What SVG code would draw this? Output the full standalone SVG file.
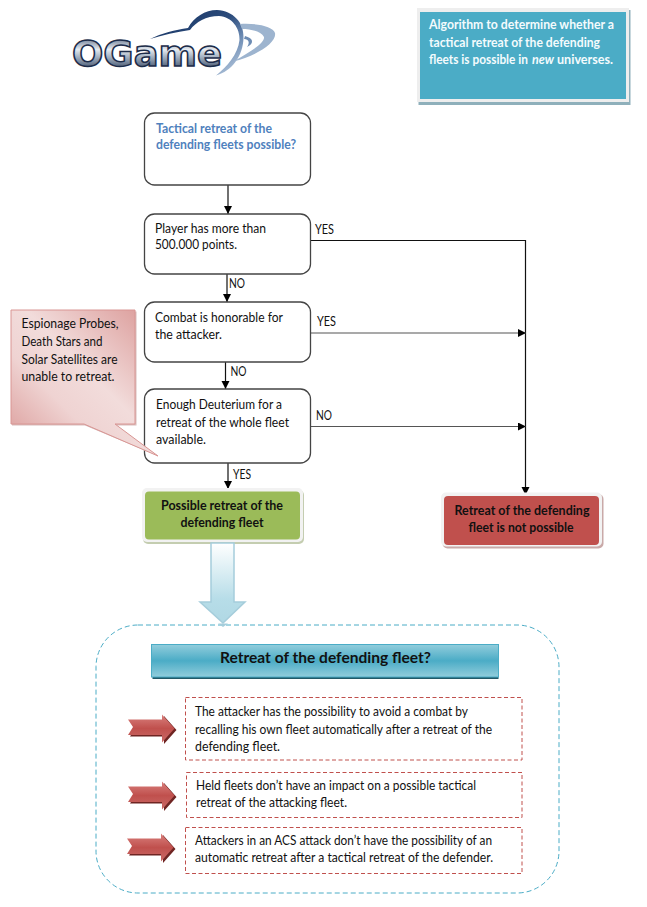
<svg xmlns="http://www.w3.org/2000/svg" width="647" height="907" viewBox="0 0 647 907">
<style>
text{font-family:"Lato","Carlito","Open Sans",sans-serif;font-size:13.4px;fill:#111}
.b{font-weight:700}
.w{fill:#f4fbfd}
.blue{fill:#4f81bd}
.node{fill:#fff;stroke:#444;stroke-width:1.3}
.conn{fill:none;stroke:#111;stroke-width:1.2}
.grey{stroke:#555}
.dash{fill:#fff;stroke:#c0504d;stroke-width:1;stroke-dasharray:4 2.5}
.rarrow{fill:url(#redA)}
.rside{fill:#6f2523}
.white{fill:#f2f2f2}
</style>
<defs>
<marker id="ah" markerUnits="userSpaceOnUse" markerWidth="9" markerHeight="9" refX="8" refY="4" orient="auto"><path d="M0 0L8 4L0 8Z" fill="#000"/></marker>
<linearGradient id="call" x1="1" y1="0" x2="0" y2="1"><stop offset="0" stop-color="#d99694"/><stop offset=".45" stop-color="#f2dcdb"/><stop offset=".65" stop-color="#efd3d2"/><stop offset="1" stop-color="#d99694"/></linearGradient>
<linearGradient id="down" x1="0" y1="0" x2="0" y2="1"><stop offset="0" stop-color="#fff"/><stop offset=".7" stop-color="#b7dde8"/><stop offset="1" stop-color="#b0d8e4"/></linearGradient>
<linearGradient id="bar" x1="0" y1="0" x2="0" y2="1"><stop offset="0" stop-color="#92cddc"/><stop offset=".5" stop-color="#4bacc6"/><stop offset="1" stop-color="#92cddc"/></linearGradient>
<linearGradient id="redA" x1="0" y1="0" x2="0" y2="1"><stop offset="0" stop-color="#d9807d"/><stop offset=".5" stop-color="#c0504d"/><stop offset="1" stop-color="#c96a67"/></linearGradient>
<linearGradient id="logoT" x1="0" y1="0" x2="0" y2="1"><stop offset="0" stop-color="#3a4d6b"/><stop offset=".4" stop-color="#e6ebf1"/><stop offset=".6" stop-color="#9fadbe"/><stop offset="1" stop-color="#1c2c4a"/></linearGradient>
<linearGradient id="logoA" gradientUnits="userSpaceOnUse" x1="190" y1="12" x2="235" y2="75"><stop offset="0" stop-color="#1f3d6c"/><stop offset=".35" stop-color="#2c4c7c"/><stop offset=".65" stop-color="#6d8cb4"/><stop offset="1" stop-color="#b9cbdf"/></linearGradient>
<path id="ra" d="M0 5H34V0L46.500 14L34 28V20.500H0L5 12.500Z"/>
</defs>

<g id="logo">
<path d="M150 39C162 33 175 30 188 28C194 17 205 10 217 10C233 11 244 22 243.500 38C243 56 232 71 216 75.500C227 67 238 54 239.500 40C240 28 232 17 219 16C206 16 196 22 190 30C176 32 163 35 150 39Z" fill="url(#logoA)"/>
<path d="M240 24C256 23 273 26 275 33C277 43 256 56 233 61.500C250 52 265 43 264 37C261 31 250 29 242 29Z" fill="#9db4cf"/>
<path d="M245 36C253 38 255 43 247 47C250 43 249 39 244 39Z" fill="#6d8cb4"/>
<text x="72" y="65.500" textLength="150" lengthAdjust="spacingAndGlyphs" style="font-family:'DejaVu Sans',sans-serif;font-size:35px;font-weight:700;fill:url(#logoT);stroke:#1c2c4a;stroke-width:1.500">OGame</text>
</g>

<g id="note-top">
<rect x="418.500" y="10" width="212" height="95" fill="#8fb0bb"/>
<rect x="417" y="8" width="212" height="94" fill="#eee"/>
<rect x="420" y="12" width="206" height="87" fill="#4bacc6"/>
<text class="b w" x="429" y="29" textLength="185" lengthAdjust="spacingAndGlyphs">Algorithm to determine whether a</text>
<text class="b w" x="429" y="47" textLength="171" lengthAdjust="spacingAndGlyphs">tactical retreat of the defending</text>
<text class="b w" transform="translate(429 64) scale(.8 1)" textLength="123.700" lengthAdjust="spacingAndGlyphs">fleets is possible in</text>
<text class="b w" transform="translate(532 64) scale(.8 1)" textLength="27.500" lengthAdjust="spacingAndGlyphs" font-style="italic">new</text>
<text class="b w" transform="translate(557 64) scale(.8 1)" textLength="70" lengthAdjust="spacingAndGlyphs">universes.</text>
</g>

<g id="connectors">
<path class="conn" d="M228 185V214" marker-end="url(#ah)"/>
<path class="conn" d="M227 274V302" marker-end="url(#ah)"/>
<path class="conn" d="M225.500 362V389" marker-end="url(#ah)"/>
<path class="conn" d="M228 463V489" marker-end="url(#ah)"/>
<path class="conn" d="M310 240.500H525.500V495" marker-end="url(#ah)"/>
<path class="conn grey" d="M310 333H526" marker-end="url(#ah)"/>
<path class="conn grey" d="M310 426.500H526" marker-end="url(#ah)"/>
<text x="315" y="234" textLength="19" lengthAdjust="spacingAndGlyphs">YES</text>
<text x="229" y="288" textLength="16" lengthAdjust="spacingAndGlyphs">NO</text>
<text x="317" y="326" textLength="19" lengthAdjust="spacingAndGlyphs">YES</text>
<text x="230.500" y="376" textLength="16" lengthAdjust="spacingAndGlyphs">NO</text>
<text x="316" y="420" textLength="16" lengthAdjust="spacingAndGlyphs">NO</text>
<text x="233" y="479" textLength="18" lengthAdjust="spacingAndGlyphs">YES</text>
</g>

<g id="start">
<rect class="node" x="144.500" y="113" width="166" height="72" rx="10"/>
<text class="b blue" x="156" y="133" textLength="116" lengthAdjust="spacingAndGlyphs">Tactical retreat of the</text>
<text class="b blue" x="156" y="149" textLength="140" lengthAdjust="spacingAndGlyphs">defending fleets possible?</text>
</g>
<g id="points">
<rect class="node" x="144.500" y="214" width="166" height="60" rx="10"/>
<text x="155" y="233" textLength="111" lengthAdjust="spacingAndGlyphs">Player has more than</text>
<text x="155" y="249" textLength="82" lengthAdjust="spacingAndGlyphs">500.000 points.</text>
</g>
<g id="honorable">
<rect class="node" x="144.500" y="302" width="166" height="60" rx="10"/>
<text x="155" y="322" textLength="128" lengthAdjust="spacingAndGlyphs">Combat is honorable for</text>
<text x="155" y="339" textLength="67" lengthAdjust="spacingAndGlyphs">the attacker.</text>
</g>
<g id="deuterium">
<rect class="node" x="144.500" y="389" width="166" height="74" rx="10"/>
<text x="156" y="409" textLength="126" lengthAdjust="spacingAndGlyphs">Enough Deuterium for a</text>
<text x="156" y="427" textLength="133" lengthAdjust="spacingAndGlyphs">retreat of the whole fleet</text>
<text x="156" y="444" textLength="50" lengthAdjust="spacingAndGlyphs">available.</text>
</g>

<g id="callout">
<path d="M12 311.500H136.500V425.500H116L158 456L85 425.500H12Z" fill="#d8bcbb"/>
<path d="M11 310H135V424H115L158 456L84 424H11Z" fill="url(#call)" stroke="#d99694" stroke-width="1"/>
<text x="21.500" y="328" textLength="97" lengthAdjust="spacingAndGlyphs">Espionage Probes,</text>
<text x="21.500" y="346" textLength="81" lengthAdjust="spacingAndGlyphs">Death Stars and</text>
<text x="21.500" y="364" textLength="96" lengthAdjust="spacingAndGlyphs">Solar Satellites are</text>
<text x="21.500" y="381" textLength="93" lengthAdjust="spacingAndGlyphs">unable to retreat.</text>
</g>

<g id="possible">
<rect x="143" y="490" width="161" height="54" rx="5" fill="#c4cdb0"/>
<rect x="142" y="488" width="161" height="54" rx="5" class="white"/>
<rect x="145" y="491.500" width="155" height="48" rx="4" fill="#9bbb59"/>
<text class="b" x="222" y="510" text-anchor="middle" textLength="122" lengthAdjust="spacingAndGlyphs">Possible retreat of the</text>
<text class="b" x="222" y="527" text-anchor="middle" textLength="83" lengthAdjust="spacingAndGlyphs">defending fleet</text>
</g>
<g id="not-possible">
<rect x="442.500" y="494" width="161" height="54.500" rx="5" fill="#c9a9a8"/>
<rect x="441" y="492.500" width="161" height="54" rx="5" class="white"/>
<rect x="444" y="496" width="155" height="49" rx="4" fill="#c0504d"/>
<text class="b" x="522" y="515" text-anchor="middle" textLength="135" lengthAdjust="spacingAndGlyphs">Retreat of the defending</text>
<text class="b" x="521" y="532" text-anchor="middle" textLength="105" lengthAdjust="spacingAndGlyphs">fleet is not possible</text>
</g>

<g id="big-arrow">
<path d="M211 543H234V602H245L223 623L200 602H211Z" fill="url(#down)" stroke="#a5cddb" stroke-width="1.500"/>
</g>

<g id="panel">
<rect x="96" y="625" width="463" height="268" rx="42" fill="#fff" stroke="#4bacc6" stroke-width="1" stroke-dasharray="5 3"/>
<path d="M218 623.500H228L223 627Z" fill="#a5cddb"/>
</g>

<g id="panel-title">
<rect x="152.500" y="646" width="346" height="33" fill="#215968"/>
<rect x="151.500" y="644.500" width="347" height="32.500" fill="url(#bar)" stroke="#4bacc6"/>
<text class="b" x="325.500" y="663" text-anchor="middle" textLength="211" lengthAdjust="spacingAndGlyphs" style="font-size:15px">Retreat of the defending fleet?</text>
</g>

<g id="item-1">
<use href="#ra" x="130" y="716" class="rside"/>
<use href="#ra" x="128" y="714.500" class="rarrow"/>
<rect class="dash" x="185.500" y="697.500" width="336.500" height="62.500"/>
<text x="195" y="716" textLength="273" lengthAdjust="spacingAndGlyphs">The attacker has the possibility to avoid a combat by</text>
<text x="195" y="734" textLength="297" lengthAdjust="spacingAndGlyphs">recalling his own fleet automatically after a retreat of the</text>
<text x="195" y="751" textLength="85" lengthAdjust="spacingAndGlyphs">defending fleet.</text>
</g>
<g id="item-2">
<use href="#ra" x="130" y="783" class="rside"/>
<use href="#ra" x="128" y="781.500" class="rarrow"/>
<rect class="dash" x="186.500" y="772.500" width="335.500" height="45"/>
<text x="196" y="790" textLength="280" lengthAdjust="spacingAndGlyphs">Held fleets don’t have an impact on a possible tactical</text>
<text x="196" y="807" textLength="151" lengthAdjust="spacingAndGlyphs">retreat of the attacking fleet.</text>
</g>
<g id="item-3">
<use href="#ra" x="129" y="835" class="rside"/>
<use href="#ra" x="127" y="833.500" class="rarrow"/>
<rect class="dash" x="185.500" y="827.500" width="336.500" height="46"/>
<text x="195" y="845" textLength="297" lengthAdjust="spacingAndGlyphs">Attackers in an ACS attack don’t have the possibility of an</text>
<text x="195" y="862" textLength="298" lengthAdjust="spacingAndGlyphs">automatic retreat after a tactical retreat of the defender.</text>
</g>
</svg>
